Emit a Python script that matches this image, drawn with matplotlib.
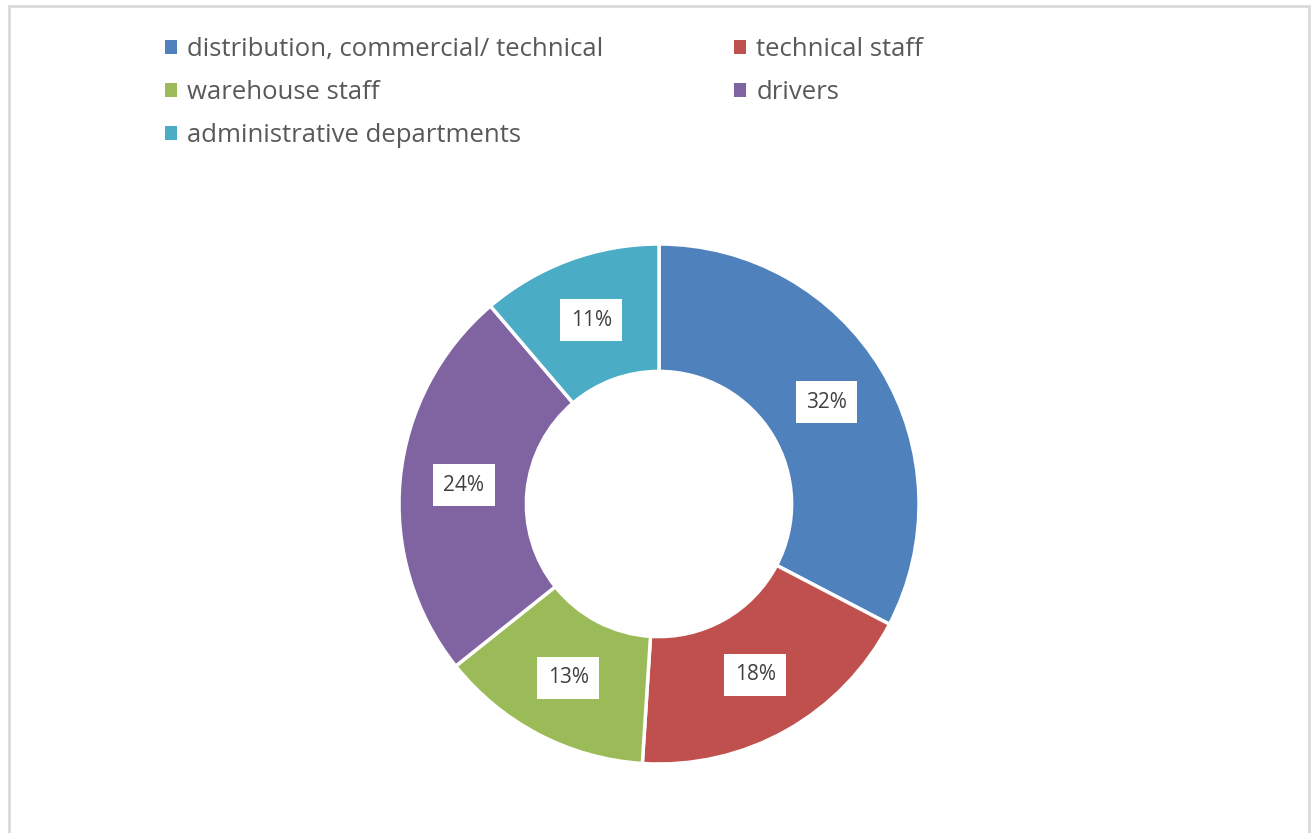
import matplotlib.pyplot as plt
from matplotlib.patches import Patch, Rectangle

labels = ['distribution, commercial/ technical', 'technical staff',
          'warehouse staff', 'drivers', 'administrative departments']
shares = [32, 18, 13, 24, 11]
colors = ['#4F81BD', '#C0504D', '#9BBB59', '#8064A2', '#4BACC6']

plt.rcParams['font.family'] = ['Open Sans', 'DejaVu Sans']

W, H = 1316, 833
fig = plt.figure(figsize=(W / 100, H / 100), dpi=100)

# light grey chart frame (bottom edge falls outside the image)
fig.patches.append(Rectangle((9 / W, -0.05), 1300 / W, (H - 6 + 42) / H,
                             transform=fig.transFigure, fill=False,
                             edgecolor='#d9d9d9', linewidth=2))

# donut centred at (659, 504) px with outer radius 260 px
cx, cy, r = 659, 504, 260
ax = fig.add_axes([(cx - r) / W, (H - cy - r) / H, 2 * r / W, 2 * r / H])
wedges, texts, autotexts = ax.pie(
    shares, colors=colors, startangle=90, counterclock=False,
    radius=1, pctdistance=0.754,
    autopct=lambda p: '%d%%' % round(p * sum(shares) / 100),
    wedgeprops=dict(width=0.49, edgecolor='white', linewidth=2.5),
    textprops=dict(color='#404040', fontsize=15))
for t in autotexts:
    t.set_bbox(dict(facecolor='white', edgecolor='none', pad=7.5))
ax.set_xlim(-1, 1)
ax.set_ylim(-1, 1)
ax.set_aspect('equal')
ax.axis('off')

# legend, two columns filled row by row
order = [0, 2, 4, 1, 3]
handles = [Patch(facecolor=colors[i], edgecolor='none') for i in order]
fig.legend(handles, [labels[i] for i in order], ncol=2,
           loc='upper left', bbox_to_anchor=(152 / W, 1 - 24 / H),
           frameon=False, fontsize=18.5, labelcolor='#595959',
           handlelength=0.47, handleheight=0.47, handletextpad=0.39,
           labelspacing=0.7, columnspacing=5.1, borderpad=0)

fig.savefig('out.png', dpi=100)
